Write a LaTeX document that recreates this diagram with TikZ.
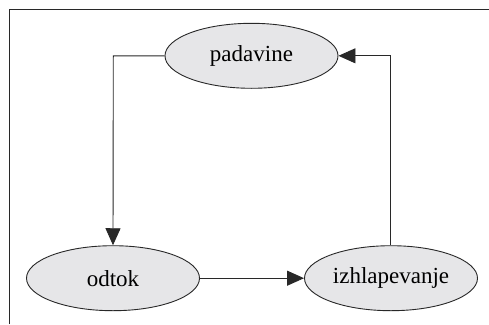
\documentclass[tikz,border=0pt]{standalone}
\usepackage{fontspec}
\setmainfont{Liberation Serif}
\usetikzlibrary{arrows.meta,shapes.geometric}
\definecolor{nodefill}{RGB}{230,230,232}
\definecolor{inkline}{RGB}{40,40,40}
\begin{document}
\begin{tikzpicture}[x=1pt,y=-1pt,
  cyclenode/.style={ellipse,draw=inkline,line width=0.9pt,fill=nodefill,
    minimum width=173pt,minimum height=65pt,inner sep=0pt,
    font=\fontsize{23}{27}\selectfont},
  flow/.style={draw=inkline,line width=0.9pt,
    -{Triangle[length=17pt,width=15pt]}}]
\useasboundingbox (0,0) rectangle (489,324);
% partial frame: top edge and left edge
\draw[inkline,line width=1pt] (9.5,324) -- (9.5,9.3) -- (489,9.3);
\node[cyclenode] (pad) at (251.5,55.8) {padavine};
\node[cyclenode] (odt) at (113,278.2) {odtok};
\node[cyclenode] (izh) at (391,278.2) {izhlapevanje};
\coordinate (c1) at (113.3,55.8);
\coordinate (c2) at (390,55.8);
\draw[flow] (pad.west) -- (c1) -- (odt.north);
\draw[flow] (odt.east) -- (izh.west);
\draw[flow] (izh.north -| c2) -- (c2) -- (pad.east);
\end{tikzpicture}
\end{document}
